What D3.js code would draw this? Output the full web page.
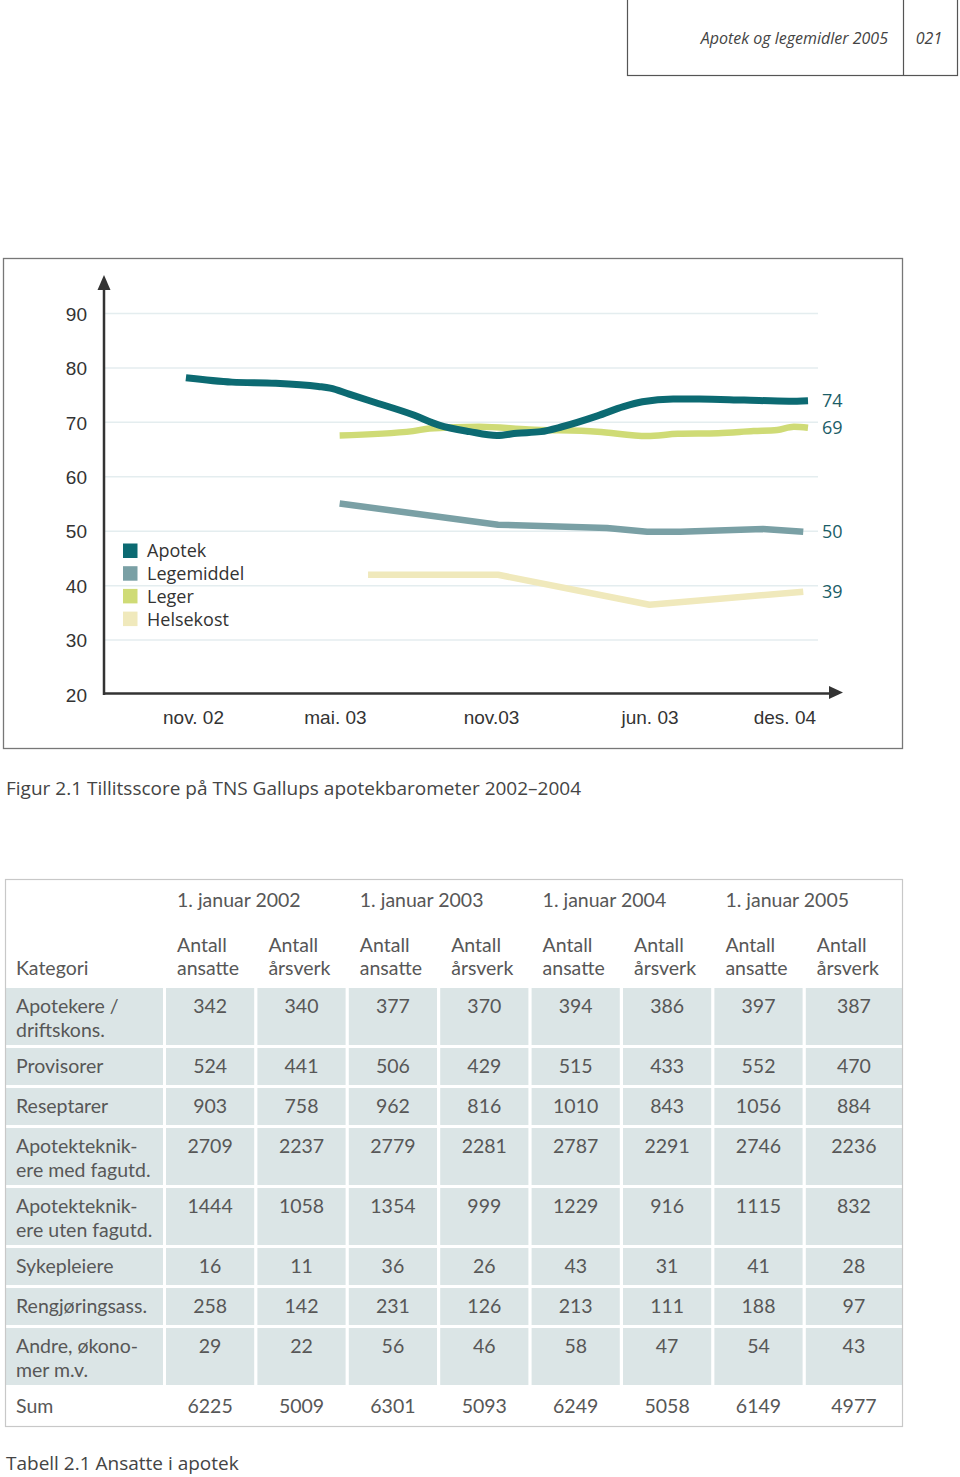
<!DOCTYPE html>
<html>
<head>
<meta charset="utf-8">
<script src="https://cdn.jsdelivr.net/npm/d3@7"></script>
<style>
  html, body { margin: 0; padding: 0; background: #fff; }
  svg { display: block; font-family: "Open Sans", "Noto Sans", sans-serif; }
</style>
</head>
<body>
<svg id="page" width="960" height="1477"></svg>
<script>
// ---------------- DATA ----------------
const yTicks = [20, 30, 40, 50, 60, 70, 80, 90];
const xTickLabels = ["nov. 02", "mai. 03", "nov.03", "jun. 03", "des. 04"];
const xTickPos = [0, 6, 12.6, 19.3, 25];   // months after nov. 02

const seriesNames = ["Apotek", "Legemiddel", "Leger", "Helsekost"];
const apotekX = [-0.3, 1.65, 3.5, 5.3, 5.8, 6.6, 7.6, 9.3, 10.4, 11.7, 12.85, 13.7, 14.7, 15.6, 17.1, 18.2, 19.0, 20.3, 21.4, 23.3, 25.2, 26.0];
const apotekY = [78.1, 77.3, 77.1, 76.5, 76.2, 75.1, 73.7, 71.3, 69.4, 68.2, 67.5, 67.9, 68.2, 69.1, 71.1, 72.8, 73.7, 74.2, 74.2, 74.0, 73.8, 73.9];
const legemiddelX = [6.2, 12.9, 17.5, 19.2, 20.6, 24.1, 25.8];
const legemiddelY = [55.0, 51.1, 50.5, 49.8, 49.8, 50.3, 49.8];
const legerX = [6.2, 9.3, 10.0, 12.1, 14.2, 17.1, 19.2, 20.5, 22.2, 23.7, 24.7, 25.4, 26.0];
const legerY = [67.5, 68.3, 68.8, 69.1, 68.6, 68.2, 67.4, 67.8, 67.9, 68.3, 68.5, 69.1, 68.9];
const helsekostX = [7.4, 12.9, 19.3, 25.8];
const helsekostY = [41.9, 41.9, 36.4, 38.8];
const endLabels = ["74", "50", "69", "39"];

const headerTitle = "Apotek og legemidler 2005";
const headerPage = "021";
const figCaption = "Figur 2.1 Tillitsscore på TNS Gallups apotekbarometer 2002–2004";
const tableCaption = "Tabell 2.1 Ansatte i apotek";

const yearLabels = ["1. januar 2002", "1. januar 2003", "1. januar 2004", "1. januar 2005"];
const colHeaderA = ["Antall", "ansatte"];
const colHeaderB = ["Antall", "årsverk"];
const categoryHeader = "Kategori";
const rowLabels = ["Apotekere /\ndriftskons.", "Provisorer", "Reseptarer", "Apotekteknik-\nere med fagutd.",
  "Apotekteknik-\nere uten fagutd.", "Sykepleiere", "Rengjøringsass.", "Andre, økono-\nmer m.v.", "Sum"];
const rowApotekere = [342, 340, 377, 370, 394, 386, 397, 387];
const rowProvisorer = [524, 441, 506, 429, 515, 433, 552, 470];
const rowReseptarer = [903, 758, 962, 816, 1010, 843, 1056, 884];
const rowMedFag = [2709, 2237, 2779, 2281, 2787, 2291, 2746, 2236];
const rowUtenFag = [1444, 1058, 1354, 999, 1229, 916, 1115, 832];
const rowSykepleiere = [16, 11, 36, 26, 43, 31, 41, 28];
const rowRengjoring = [258, 142, 231, 126, 213, 111, 188, 97];
const rowAndre = [29, 22, 56, 46, 58, 47, 54, 43];
const rowSum = [6225, 5009, 6301, 5093, 6249, 5058, 6149, 4977];

// ---------------- DRAW ----------------
const svg = d3.select("#page");
const colors = { Apotek: "#0c6a72", Legemiddel: "#7aa0a5", Leger: "#cfdb76", Helsekost: "#f0e9bc" };

// Header box
svg.append("rect").attr("x", 627.5).attr("y", -2).attr("width", 330).attr("height", 77.5)
  .attr("fill", "none").attr("stroke", "#555").attr("stroke-width", 1.2);
svg.append("line").attr("x1", 903.5).attr("x2", 903.5).attr("y1", 0).attr("y2", 75.5)
  .attr("stroke", "#555").attr("stroke-width", 1.2);
svg.append("text").attr("x", 888).attr("y", 44).attr("text-anchor", "end")
  .attr("font-size", 16).attr("font-style", "italic").attr("fill", "#444").text(headerTitle);
svg.append("text").attr("x", 929).attr("y", 44).attr("text-anchor", "middle")
  .attr("font-size", 16).attr("font-style", "italic").attr("fill", "#444").text(headerPage);

// Chart frame
svg.append("rect").attr("x", 3.5).attr("y", 258.5).attr("width", 899).attr("height", 490)
  .attr("fill", "none").attr("stroke", "#777").attr("stroke-width", 1.3);

const x = d3.scaleLinear().domain([0, 26]).range([193, 808]);
const y = d3.scaleLinear().domain([20, 90]).range([694, 313]);

// Y axis with gridlines
const gy = svg.append("g").attr("transform", "translate(104,0)")
  .call(d3.axisLeft(y).tickValues(yTicks).tickSize(-714).tickPadding(17).tickFormat(d3.format("d")));
gy.select(".domain").remove();
gy.selectAll(".tick line").attr("stroke", "#e4edef").attr("stroke-width", 1.5)
  .filter(d => d === 20).remove();
gy.selectAll(".tick text").attr("font-size", 19).attr("fill", "#333").attr("font-family", null)
  .attr("dy", "0.38em");

// X axis labels
const gx = svg.append("g").attr("transform", "translate(0,694)")
  .call(d3.axisBottom(x).tickValues(xTickPos).tickSize(0).tickPadding(17)
    .tickFormat((d, i) => xTickLabels[i]));
gx.select(".domain").remove();
gx.selectAll(".tick text").attr("font-size", 19).attr("fill", "#333").attr("font-family", null);

// Axis lines + arrows
svg.append("line").attr("x1", 104).attr("x2", 104).attr("y1", 288).attr("y2", 695)
  .attr("stroke", "#333").attr("stroke-width", 2.5);
svg.append("line").attr("x1", 103).attr("x2", 832).attr("y1", 693.5).attr("y2", 693.5)
  .attr("stroke", "#333").attr("stroke-width", 2.5);
svg.append("path").attr("d", "M104,275 L97.5,290 L110.5,290 Z").attr("fill", "#333");
svg.append("path").attr("d", "M843,692.5 L829,686 L829,699 Z").attr("fill", "#333");

// Lines
const seriesData = [
  { name: "Apotek", xs: apotekX, ys: apotekY, curve: d3.curveMonotoneX, w: 7 },
  { name: "Legemiddel", xs: legemiddelX, ys: legemiddelY, curve: d3.curveLinear, w: 6.5 },
  { name: "Leger", xs: legerX, ys: legerY, curve: d3.curveMonotoneX, w: 6.5 },
  { name: "Helsekost", xs: helsekostX, ys: helsekostY, curve: d3.curveLinear, w: 6.5 }
];
const drawOrder = ["Helsekost", "Legemiddel", "Leger", "Apotek"];
drawOrder.forEach(n => {
  const s = seriesData.find(d => d.name === n);
  const pts = s.xs.map((v, i) => [v, s.ys[i]]);
  svg.append("path").datum(pts)
    .attr("d", d3.line().x(d => x(d[0])).y(d => y(d[1])).curve(s.curve))
    .attr("fill", "none").attr("stroke", colors[n]).attr("stroke-width", s.w)
    .attr("stroke-linejoin", "round").attr("stroke-linecap", "butt");
});
// End value labels
seriesData.forEach((s, i) => {
  svg.append("text").attr("x", 822).attr("y", y(s.ys[s.ys.length - 1])).attr("dy", "0.36em")
    .attr("font-size", 18).attr("fill", "#1b5d67").text(endLabels[i]);
});

// Legend
const lg = svg.append("g");
seriesNames.forEach((n, i) => {
  const cy = 551 + i * 22.7;
  lg.append("rect").attr("x", 123).attr("y", cy - 7.5).attr("width", 14.5).attr("height", 14.5).attr("fill", colors[n]);
  lg.append("text").attr("x", 147).attr("y", cy).attr("dy", "0.36em").attr("font-size", 18)
    .attr("fill", "#333").text(n);
});

// Figure caption
svg.append("text").attr("x", 6).attr("y", 795).attr("font-size", 19).attr("fill", "#444").text(figCaption);

// ---------------- TABLE ----------------
const tableRows = [rowApotekere, rowProvisorer, rowReseptarer, rowMedFag, rowUtenFag,
  rowSykepleiere, rowRengjoring, rowAndre, rowSum];
const tText = "#575757";
const tSize = 19.5;
const tFont = "Lato, 'Open Sans', sans-serif";
const tg = svg.append("g").attr("font-family", tFont).attr("font-size", tSize).attr("fill", tText);
const colBand = d3.scaleBand().domain(d3.range(8)).range([166, 894]).paddingInner(0.035).paddingOuter(0);
const bandRight = i => (i === 7 ? 902 : colBand(i) + colBand.bandwidth());
const bandMid = i => (colBand(i) + bandRight(i)) / 2;

// Header rows
yearLabels.forEach((t, k) => {
  tg.append("text").attr("x", colBand(k * 2) + 11).attr("y", 907).text(t);
});
d3.range(8).forEach(i => {
  const h = i % 2 === 0 ? colHeaderA : colHeaderB;
  tg.append("text").attr("x", colBand(i) + 11).attr("y", 952).text(h[0]);
  tg.append("text").attr("x", colBand(i) + 11).attr("y", 975).text(h[1]);
});
tg.append("text").attr("x", 16).attr("y", 975).text(categoryHeader);

// Body rows
let rowTop = 988;
tableRows.forEach((vals, r) => {
  const lines = rowLabels[r].split("\n");
  const h = lines.length > 1 ? 57 : 37;
  const isSum = r === tableRows.length - 1;
  if (!isSum) {
    tg.append("rect").attr("x", 6).attr("y", rowTop).attr("width", 157).attr("height", h).attr("fill", "#dbe5e6");
    d3.range(8).forEach(i => {
      tg.append("rect").attr("x", colBand(i)).attr("y", rowTop)
        .attr("width", bandRight(i) - colBand(i)).attr("height", h).attr("fill", "#dbe5e6");
    });
  }
  lines.forEach((l, j) => {
    tg.append("text").attr("x", 16).attr("y", rowTop + 25 + j * 24).text(l);
  });
  vals.forEach((v, i) => {
    tg.append("text").attr("x", bandMid(i)).attr("y", rowTop + 25)
      .attr("text-anchor", "middle").text(v);
  });
  rowTop += h + 3;
});
// Table frame
svg.append("rect").attr("x", 5.5).attr("y", 879.5).attr("width", 897).attr("height", rowTop - 3 - 879 + 1)
  .attr("fill", "none").attr("stroke", "#c8c8c8").attr("stroke-width", 1.2);

svg.append("text").attr("x", 6).attr("y", 1470).attr("font-size", 19).attr("fill", "#444").text(tableCaption);
</script>
</body>
</html>
